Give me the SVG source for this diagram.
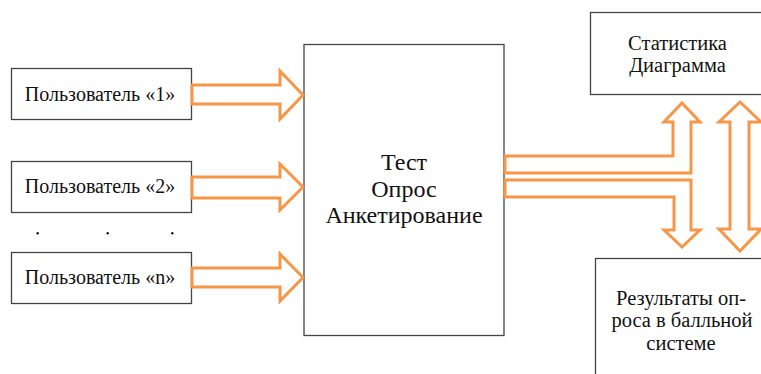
<svg xmlns="http://www.w3.org/2000/svg" width="761" height="374" viewBox="0 0 761 374">
<style>
.box{fill:#fff;stroke:#444;stroke-width:1.3}
.arr{fill:#fff;stroke:#F79646;stroke-width:3;stroke-linejoin:miter}
text{font-family:"Liberation Serif","Times New Roman",serif;fill:#111;text-anchor:middle}
.t18{font-size:20px}
.tr{font-size:20.5px}
.t20{font-size:24px}
</style>
<rect width="761" height="374" fill="#fff"/>
<g id="center">
<rect class="box" x="304" y="44.5" width="200" height="291"/>
<text class="t20" x="404" y="170">Тест</text>
<text class="t20" x="404" y="197">Опрос</text>
<text class="t20" x="404" y="223">Анкетирование</text>
</g>
<g id="user1">
<rect class="box" x="11.5" y="68.5" width="180" height="51"/>
<text class="t18" x="100" y="100.5">Пользователь «1»</text>
</g>
<g id="user2">
<rect class="box" x="11.5" y="161.5" width="180" height="51"/>
<text class="t18" x="100" y="193">Пользователь «2»</text>
</g>
<g id="dots">
<circle cx="37.7" cy="233.3" r="1.2" fill="#111"/>
<circle cx="107.7" cy="233.3" r="1.2" fill="#111"/>
<circle cx="172.3" cy="233.3" r="1.2" fill="#111"/>
</g>
<g id="userN">
<rect class="box" x="11.5" y="252.5" width="180" height="51"/>
<text class="t18" x="100" y="284">Пользователь «n»</text>
</g>
<g id="stats">
<rect class="box" x="590.5" y="12.5" width="180" height="82"/>
<text class="tr" x="677.5" y="50">Статистика</text>
<text class="tr" x="677.5" y="72">Диаграмма</text>
</g>
<g id="results">
<rect class="box" x="595.5" y="258.5" width="180" height="130"/>
<text class="tr" x="681" y="305">Результаты оп-</text>
<text class="tr" x="682" y="327">роса в балльной</text>
<text class="tr" x="681" y="350">системе</text>
</g>
<g id="connectors">
<path class="arr" d="M192,85 H280 V71 L303,95 L280,119 V104 H192 Z"/>
<path class="arr" d="M192,177 H280 V164 L303,187 L280,210 V198 H192 Z"/>
<path class="arr" d="M192,268 H280 V254 L303,277.5 L280,301 V287 H192 Z"/>
<path class="arr" d="M505,156 H673 V122 H664 L682,103 L700,122 H691 V173 H505 Z"/>
<path class="arr" d="M505,180 H691 V230 H700 L682,247 L664,230 H674 V197 H505 Z"/>
<path class="arr" d="M730,122 H719 L740,102 L761,122 H749 V229 H761 L740,251 L719,229 H730 Z"/>
</g>
</svg>
